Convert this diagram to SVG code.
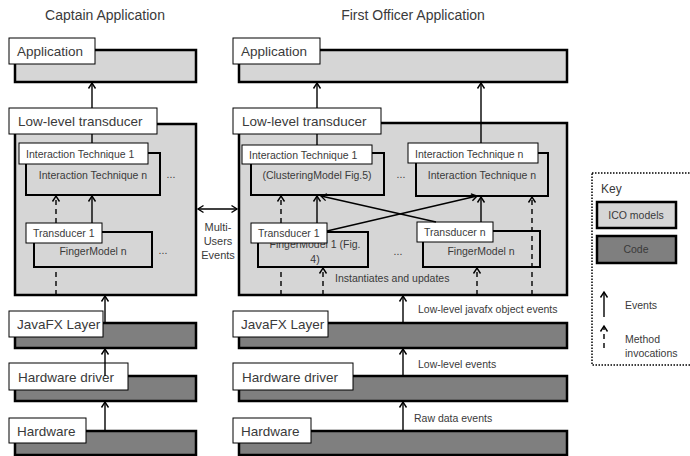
<svg xmlns="http://www.w3.org/2000/svg" width="690" height="456" viewBox="0 0 690 456">
<defs>
<marker id="ah" markerWidth="10" markerHeight="10" refX="8" refY="5" orient="auto-start-reverse" markerUnits="userSpaceOnUse">
<path d="M2.5,1.5 L8,5 L2.5,8.5" fill="none" stroke="#000" stroke-width="1.4"/>
</marker>
<style>
text{font-family:"Liberation Sans",Arial,sans-serif;fill:#3a3a3a}
.title{font-size:14px}
.lbl{font-size:13.5px}
.sm{font-size:10.5px}
.note{font-size:10.5px}
.ico{fill:#d6d6d6;stroke:#000;stroke-width:2.5}
.code{fill:#7f7f7f;stroke:#000;stroke-width:2.5}
.inner{fill:#d6d6d6;stroke:#000;stroke-width:2}
.tag{fill:#fff;stroke:#000;stroke-width:1}
.ev{stroke:#000;stroke-width:1.4;fill:none}
.mi{stroke:#000;stroke-width:1.4;fill:none;stroke-dasharray:5,4}
</style>
</defs>
<rect width="690" height="456" fill="#fff"/>

<text class="title" x="105" y="20" text-anchor="middle">Captain Application</text>
<text class="title" x="413" y="20" text-anchor="middle">First Officer Application</text>

<!-- Captain -->
<g id="cap-app"><rect class="ico" x="15" y="50" width="181" height="32"/><rect class="tag" x="9" y="38" width="86" height="26"/><text class="lbl" x="17" y="56">Application</text></g>
<g id="cap-llt"><rect class="ico" x="15" y="124" width="181" height="171"/><rect class="tag" x="9" y="108" width="148" height="26"/><text class="lbl" x="18" y="126">Low-level transducer</text></g>
<g id="cap-it"><rect class="inner" x="26" y="153" width="134" height="42"/><rect class="tag" x="19" y="143" width="129" height="21"/><text class="sm" x="26" y="158">Interaction Technique 1</text><text class="sm" x="93" y="179" text-anchor="middle">Interaction Technique n</text><text class="sm" x="171" y="178" text-anchor="middle">...</text></g>
<g id="cap-tr"><rect class="inner" x="34" y="232" width="118" height="35"/><rect class="tag" x="26" y="223" width="76" height="20"/><text class="sm" x="33" y="237">Transducer 1</text><text class="sm" x="93" y="255" text-anchor="middle">FingerModel n</text><text class="sm" x="163" y="254" text-anchor="middle">...</text></g>
<g id="cap-jfx"><rect class="code" x="15" y="323" width="181" height="25"/><rect class="tag" x="9" y="311" width="94" height="26"/><text class="lbl" x="17" y="329">JavaFX Layer</text></g>
<g id="cap-hd"><rect class="code" x="15" y="376" width="181" height="25"/><rect class="tag" x="9" y="363" width="119" height="27"/><text class="lbl" x="18" y="382">Hardware driver</text></g>
<g id="cap-hw"><rect class="code" x="15" y="431" width="181" height="24"/><rect class="tag" x="9" y="418" width="77" height="25"/><text class="lbl" x="17" y="436">Hardware</text></g>

<!-- First Officer -->
<g id="fo-app"><rect class="ico" x="239" y="50" width="328" height="32"/><rect class="tag" x="233" y="38" width="87" height="26"/><text class="lbl" x="241" y="56">Application</text></g>
<g id="fo-llt"><rect class="ico" x="239" y="123" width="328" height="172"/><rect class="tag" x="233" y="108" width="148" height="26"/><text class="lbl" x="242" y="126">Low-level transducer</text></g>
<g id="fo-it1"><rect class="inner" x="251" y="153" width="133" height="42"/><rect class="tag" x="242" y="145" width="130" height="19"/><text class="sm" x="249" y="159">Interaction Technique 1</text><text class="sm" x="317" y="179" text-anchor="middle">(ClusteringModel Fig.5)</text><text class="sm" x="401" y="178" text-anchor="middle">...</text></g>
<g id="fo-itn"><rect class="inner" x="416" y="153" width="132" height="43"/><rect class="tag" x="408" y="143" width="130" height="20"/><text class="sm" x="415" y="158">Interaction Technique n</text><text class="sm" x="482" y="179" text-anchor="middle">Interaction Technique n</text></g>
<g id="fo-tr1"><rect class="inner" x="258" y="232" width="110" height="35"/><text class="sm" x="315" y="248" text-anchor="middle">FingerModel 1 (Fig.</text><text class="sm" x="315" y="263" text-anchor="middle">4)</text><rect class="tag" x="251" y="223" width="76" height="20"/><text class="sm" x="258" y="237">Transducer 1</text><text class="sm" x="398" y="255" text-anchor="middle">...</text></g>
<g id="fo-trn"><rect class="inner" x="423" y="231" width="117" height="36"/><rect class="tag" x="417" y="222" width="76" height="20"/><text class="sm" x="424" y="236">Transducer n</text><text class="sm" x="481" y="255" text-anchor="middle">FingerModel n</text></g>
<g id="fo-jfx"><rect class="code" x="239" y="323" width="328" height="25"/><rect class="tag" x="233" y="311" width="95" height="26"/><text class="lbl" x="241" y="329">JavaFX Layer</text></g>
<g id="fo-hd"><rect class="code" x="239" y="376" width="328" height="25"/><rect class="tag" x="233" y="363" width="120" height="27"/><text class="lbl" x="242" y="382">Hardware driver</text></g>
<g id="fo-hw"><rect class="code" x="239" y="431" width="328" height="24"/><rect class="tag" x="233" y="418" width="78" height="25"/><text class="lbl" x="241" y="436">Hardware</text></g>

<!-- Key -->
<g id="key">
<rect x="592" y="173" width="100" height="192" fill="#fff" stroke="#000" stroke-width="1.5" stroke-dasharray="1.5,1.5"/>
<text x="601" y="193" style="font-size:12px">Key</text>
<rect class="ico" x="597" y="202" width="79" height="26"/><text class="note" x="636" y="219" text-anchor="middle">ICO models</text>
<rect class="code" x="597" y="236" width="79" height="27"/><text class="note" x="636" y="253" text-anchor="middle">Code</text>
<line class="ev" x1="604" y1="317" x2="604" y2="292" marker-end="url(#ah)"/>
<text class="note" x="625" y="309">Events</text>
<line class="mi" x1="604" y1="348" x2="604" y2="326" stroke-dasharray="4,3" marker-end="url(#ah)"/>
<text class="note" x="625" y="343">Method</text>
<text class="note" x="625" y="357">invocations</text>
</g>

<!-- connectors -->
<g id="connectors">
<line class="ev" x1="92" y1="108" x2="92" y2="83" marker-end="url(#ah)"/>
<line class="ev" x1="92" y1="134" x2="92" y2="143"/>
<line class="ev" x1="92" y1="223" x2="92" y2="196" marker-end="url(#ah)"/>
<line class="mi" x1="56" y1="223" x2="56" y2="196" marker-end="url(#ah)"/>
<line class="mi" x1="56" y1="295" x2="56" y2="268"/>
<line class="ev" x1="105" y1="323" x2="105" y2="296" marker-end="url(#ah)"/>
<line class="ev" x1="105" y1="376" x2="105" y2="349" marker-end="url(#ah)"/>
<line class="ev" x1="105" y1="431" x2="105" y2="402" marker-end="url(#ah)"/>
<line class="ev" x1="198" y1="209" x2="237" y2="209" marker-start="url(#ah)" marker-end="url(#ah)"/>
<text class="note" x="218" y="231" style="font-size:11px" text-anchor="middle">Multi-</text>
<text class="note" x="218" y="245" style="font-size:11px" text-anchor="middle">Users</text>
<text class="note" x="218" y="259" style="font-size:11px" text-anchor="middle">Events</text>

<line class="ev" x1="317" y1="108" x2="317" y2="83" marker-end="url(#ah)"/>
<line class="ev" x1="317" y1="134" x2="317" y2="145"/>
<line class="ev" x1="481" y1="143" x2="481" y2="83" marker-end="url(#ah)"/>
<line class="ev" x1="317" y1="223" x2="317" y2="196" marker-end="url(#ah)"/>
<line class="mi" x1="281" y1="223" x2="281" y2="196" marker-end="url(#ah)"/>
<line class="mi" x1="281" y1="295" x2="281" y2="268"/>
<line class="mi" x1="323" y1="295" x2="323" y2="268" marker-end="url(#ah)"/>
<line class="ev" x1="327" y1="231" x2="477" y2="196" marker-end="url(#ah)"/>
<line class="ev" x1="436" y1="222" x2="321" y2="196" marker-end="url(#ah)"/>
<line class="ev" x1="481" y1="222" x2="481" y2="197" marker-end="url(#ah)"/>
<line class="mi" x1="532" y1="295" x2="532" y2="197" marker-end="url(#ah)"/>
<line class="mi" x1="477" y1="295" x2="477" y2="268" marker-end="url(#ah)"/>
<text class="note" x="335" y="282">Instantiates and updates</text>
<line class="ev" x1="403" y1="323" x2="403" y2="296" marker-end="url(#ah)"/>
<line class="ev" x1="403" y1="376" x2="403" y2="349" marker-end="url(#ah)"/>
<line class="ev" x1="403" y1="431" x2="403" y2="402" marker-end="url(#ah)"/>
<text class="note" x="418" y="313">Low-level javafx object events</text>
<text class="note" x="418" y="368">Low-level events</text>
<text class="note" x="414" y="422">Raw data events</text>
</g>
</svg>
